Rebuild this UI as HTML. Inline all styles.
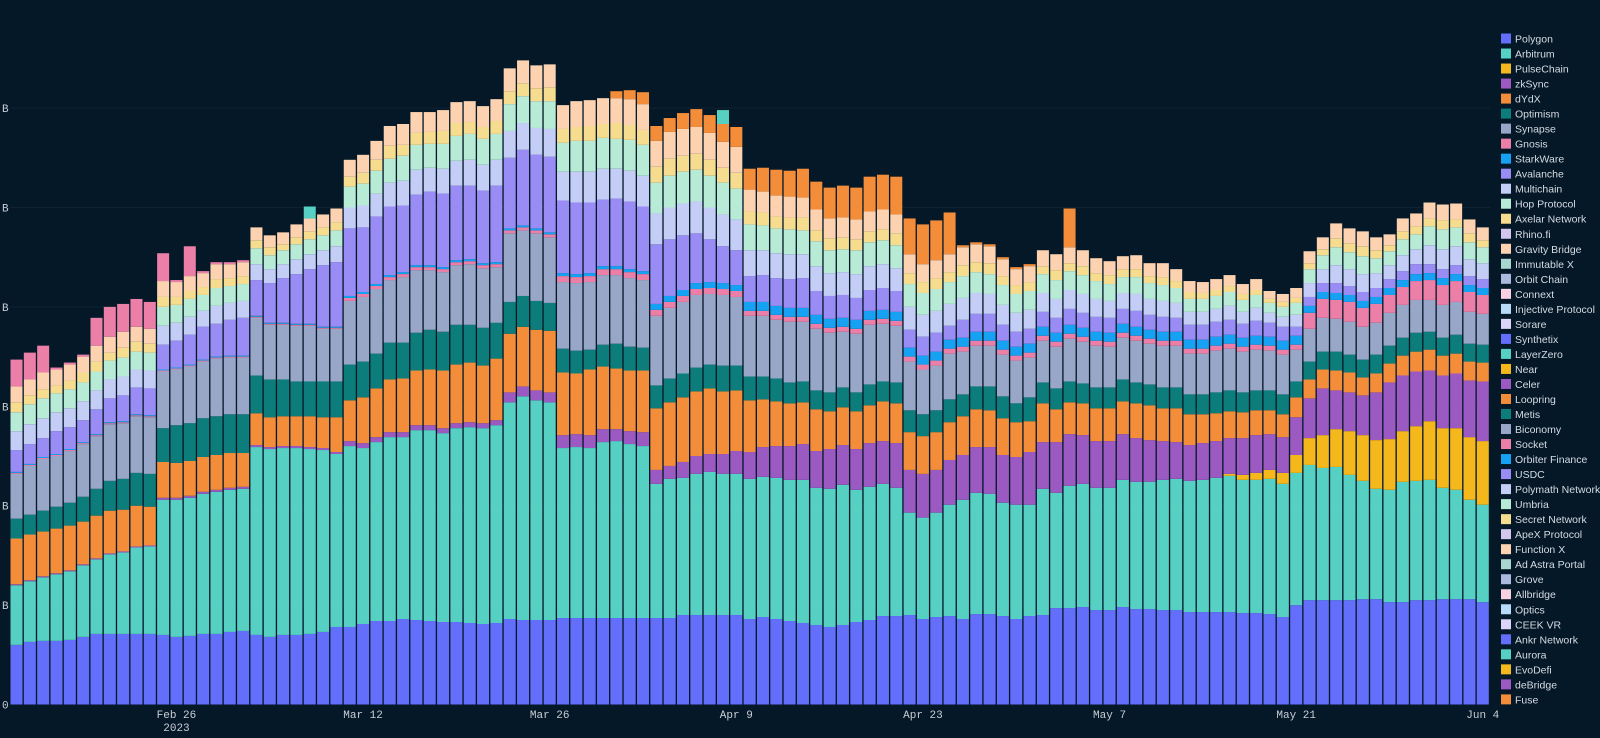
<!DOCTYPE html>
<html><head><meta charset="utf-8">
<style>
html,body{margin:0;padding:0;background:#041828;}
body{width:1600px;height:738px;overflow:hidden;font-family:"Liberation Sans",sans-serif;}
svg{display:block;}
.tick{font-family:"Liberation Mono",monospace;font-size:11px;fill:#c9ced6;}
.leg{font-family:"Liberation Sans",sans-serif;font-size:10.5px;fill:#d6dbe2;}
</style></head>
<body>
<svg id="chart" width="1600" height="738" xmlns="http://www.w3.org/2000/svg">
<rect x="0" y="0" width="1600" height="738" fill="#041828"/>
<g id="grid"></g>
<g id="yaxis"></g>
<g id="bars"></g>
<g id="xaxis"></g>
<g id="legend"></g>
</svg>
<script>
const startDate = [2023, 1, 14];
const tickIndex = [12, 26, 40, 54, 68, 82, 96, 110];
const tickLabels = ["Feb 26", "Mar 12", "Mar 26", "Apr 9", "Apr 23", "May 7", "May 21", "Jun 4"];
const yTicks = [0, 1, 2, 3, 4, 5, 6];
const yTickLabels = ["0", "B", "B", "B", "B", "B", "B"];

const polygon = [0.60,0.63,0.64,0.64,0.65,0.68,0.71,0.71,0.71,0.71,0.71,0.70,0.68,0.69,0.71,0.71,0.73,0.74,0.70,0.68,0.70,0.70,0.71,0.73,0.78,0.78,0.81,0.84,0.84,0.86,0.85,0.84,0.83,0.83,0.82,0.81,0.82,0.86,0.85,0.85,0.85,0.87,0.87,0.87,0.87,0.87,0.87,0.87,0.87,0.87,0.90,0.90,0.90,0.90,0.90,0.86,0.88,0.86,0.84,0.82,0.80,0.78,0.80,0.83,0.85,0.89,0.89,0.90,0.86,0.88,0.89,0.86,0.91,0.91,0.89,0.86,0.89,0.90,0.97,0.97,0.98,0.95,0.95,0.98,0.96,0.96,0.95,0.95,0.93,0.93,0.93,0.93,0.92,0.92,0.91,0.88,1.00,1.05,1.05,1.05,1.05,1.06,1.06,1.03,1.03,1.05,1.05,1.06,1.06,1.06,1.03];
const arbitrum = [0.60,0.61,0.64,0.67,0.69,0.72,0.75,0.80,0.82,0.87,0.88,1.36,1.38,1.39,1.41,1.43,1.43,1.43,1.89,1.89,1.88,1.88,1.86,1.83,1.74,1.82,1.77,1.80,1.85,1.83,1.91,1.92,1.90,1.95,1.97,1.97,1.99,2.18,2.25,2.21,2.19,1.71,1.72,1.71,1.77,1.78,1.75,1.73,1.35,1.40,1.38,1.42,1.44,1.42,1.42,1.41,1.41,1.42,1.42,1.44,1.38,1.39,1.41,1.33,1.34,1.33,1.29,1.03,1.02,1.05,1.12,1.20,1.22,1.21,1.14,1.15,1.12,1.27,1.16,1.23,1.24,1.23,1.23,1.28,1.28,1.28,1.31,1.32,1.32,1.33,1.35,1.37,1.34,1.34,1.36,1.34,1.33,1.36,1.33,1.34,1.26,1.19,1.11,1.13,1.21,1.20,1.21,1.12,1.10,1.00,0.98];
const pulsechain = [0,0,0,0,0,0,0,0,0,0,0,0,0,0,0,0,0,0,0,0,0,0,0,0,0,0,0,0,0,0,0,0,0,0,0,0,0,0,0,0,0,0,0,0,0,0,0,0,0,0,0,0,0,0,0,0,0,0,0,0,0,0,0,0,0,0,0,0,0,0,0,0,0,0,0,0,0,0,0,0,0,0,0,0,0,0,0,0,0,0,0,0.02,0.05,0.07,0.09,0.11,0.18,0.27,0.33,0.38,0.44,0.46,0.49,0.51,0.51,0.55,0.59,0.60,0.62,0.63,0.64];
const zksync = [0.01,0.01,0.01,0.01,0.01,0.01,0.01,0.01,0.01,0.01,0.01,0.02,0.02,0.02,0.02,0.02,0.02,0.02,0.02,0.02,0.02,0.02,0.02,0.02,0.02,0.05,0.05,0.05,0.05,0.05,0.05,0.05,0.05,0.05,0.05,0.05,0.05,0.10,0.10,0.10,0.10,0.13,0.13,0.13,0.13,0.12,0.13,0.14,0.14,0.13,0.16,0.18,0.18,0.20,0.23,0.27,0.30,0.32,0.34,0.36,0.37,0.40,0.40,0.41,0.44,0.43,0.45,0.43,0.44,0.43,0.45,0.45,0.46,0.47,0.48,0.48,0.53,0.47,0.51,0.52,0.49,0.47,0.47,0.46,0.44,0.42,0.39,0.37,0.36,0.37,0.37,0.36,0.37,0.38,0.36,0.36,0.38,0.40,0.47,0.39,0.39,0.40,0.48,0.57,0.56,0.55,0.51,0.53,0.55,0.57,0.60];
const dydx = [0.46,0.46,0.45,0.45,0.45,0.43,0.43,0.43,0.42,0.41,0.39,0.36,0.35,0.35,0.35,0.35,0.35,0.34,0.32,0.30,0.30,0.30,0.31,0.31,0.35,0.41,0.46,0.49,0.53,0.54,0.55,0.56,0.58,0.59,0.60,0.58,0.62,0.59,0.60,0.61,0.62,0.63,0.61,0.66,0.63,0.61,0.61,0.62,0.62,0.64,0.65,0.65,0.66,0.63,0.61,0.52,0.48,0.45,0.43,0.42,0.42,0.38,0.38,0.38,0.38,0.40,0.40,0.38,0.38,0.38,0.38,0.39,0.38,0.37,0.37,0.35,0.31,0.39,0.33,0.32,0.32,0.33,0.33,0.33,0.35,0.35,0.33,0.34,0.31,0.29,0.28,0.27,0.26,0.25,0.24,0.23,0.20,0.19,0.19,0.20,0.20,0.18,0.19,0.19,0.20,0.20,0.21,0.20,0.20,0.19,0.19];
const optimism = [0.20,0.20,0.21,0.22,0.23,0.25,0.27,0.30,0.31,0.33,0.33,0.34,0.38,0.38,0.39,0.39,0.39,0.39,0.38,0.38,0.37,0.35,0.35,0.36,0.36,0.36,0.36,0.35,0.37,0.36,0.38,0.40,0.39,0.40,0.38,0.38,0.36,0.32,0.31,0.29,0.28,0.24,0.23,0.20,0.22,0.25,0.24,0.23,0.23,0.24,0.24,0.24,0.24,0.26,0.25,0.24,0.23,0.23,0.21,0.21,0.19,0.19,0.20,0.19,0.21,0.20,0.21,0.22,0.22,0.22,0.23,0.22,0.23,0.24,0.22,0.19,0.24,0.21,0.21,0.21,0.20,0.21,0.21,0.22,0.21,0.21,0.21,0.21,0.20,0.20,0.21,0.21,0.20,0.20,0.20,0.20,0.16,0.18,0.18,0.19,0.18,0.18,0.19,0.18,0.18,0.19,0.18,0.18,0.19,0.18,0.18];
const synapse = [0.45,0.49,0.52,0.51,0.52,0.53,0.53,0.57,0.56,0.57,0.57,0.57,0.56,0.57,0.57,0.58,0.57,0.57,0.58,0.55,0.55,0.56,0.56,0.53,0.53,0.64,0.65,0.65,0.63,0.66,0.63,0.60,0.60,0.60,0.61,0.60,0.56,0.69,0.66,0.68,0.66,0.67,0.68,0.68,0.70,0.69,0.69,0.68,0.70,0.71,0.72,0.73,0.71,0.71,0.69,0.61,0.61,0.59,0.61,0.60,0.62,0.60,0.56,0.59,0.60,0.58,0.57,0.49,0.45,0.45,0.46,0.43,0.41,0.41,0.42,0.43,0.40,0.42,0.42,0.43,0.42,0.42,0.41,0.42,0.42,0.41,0.42,0.42,0.41,0.41,0.42,0.42,0.41,0.41,0.40,0.40,0.32,0.33,0.34,0.33,0.33,0.33,0.32,0.33,0.33,0.33,0.32,0.33,0.33,0.32,0.31];
const gnosis = [0.01,0.01,0.01,0.01,0.01,0.01,0.01,0.01,0.01,0.01,0.01,0.01,0.01,0.01,0.01,0.01,0.01,0.01,0.01,0.01,0.01,0.01,0.01,0.01,0.01,0.03,0.03,0.03,0.03,0.03,0.03,0.03,0.03,0.03,0.03,0.03,0.03,0.03,0.03,0.03,0.03,0.06,0.06,0.06,0.06,0.06,0.06,0.06,0.06,0.06,0.06,0.06,0.06,0.06,0.06,0.05,0.05,0.05,0.05,0.05,0.05,0.05,0.05,0.05,0.05,0.05,0.05,0.05,0.05,0.05,0.05,0.05,0.05,0.05,0.05,0.05,0.05,0.05,0.05,0.05,0.05,0.05,0.05,0.05,0.05,0.05,0.05,0.05,0.05,0.05,0.05,0.05,0.05,0.05,0.05,0.05,0.05,0.16,0.19,0.19,0.20,0.19,0.19,0.18,0.18,0.19,0.20,0.20,0.21,0.20,0.19,0.18];
const starkware = [0.01,0.01,0.01,0.01,0.01,0.01,0.01,0.01,0.01,0.01,0.01,0.01,0.01,0.01,0.01,0.01,0.01,0.01,0.01,0.01,0.01,0.01,0.01,0.01,0.01,0.02,0.02,0.02,0.02,0.02,0.02,0.02,0.02,0.02,0.02,0.02,0.02,0.02,0.02,0.02,0.02,0.03,0.03,0.03,0.03,0.03,0.03,0.03,0.06,0.06,0.06,0.06,0.06,0.06,0.06,0.09,0.09,0.09,0.09,0.09,0.09,0.09,0.09,0.09,0.09,0.09,0.09,0.09,0.09,0.09,0.09,0.09,0.09,0.09,0.09,0.09,0.09,0.09,0.09,0.09,0.09,0.09,0.09,0.09,0.09,0.09,0.09,0.09,0.09,0.09,0.09,0.09,0.09,0.09,0.09,0.09,0.09,0.07,0.07,0.07,0.07,0.07,0.07,0.07,0.07,0.07,0.07,0.07,0.07,0.07,0.07,0.07];
const avalanche = [0.22,0.20,0.19,0.23,0.22,0.22,0.25,0.24,0.26,0.27,0.27,0.25,0.27,0.30,0.33,0.33,0.36,0.38,0.36,0.40,0.45,0.50,0.55,0.62,0.65,0.68,0.65,0.68,0.69,0.67,0.71,0.74,0.74,0.75,0.74,0.73,0.77,0.71,0.76,0.74,0.76,0.73,0.72,0.71,0.67,0.68,0.68,0.65,0.60,0.57,0.55,0.50,0.43,0.37,0.35,0.26,0.27,0.28,0.29,0.30,0.24,0.23,0.23,0.22,0.21,0.22,0.21,0.18,0.19,0.19,0.14,0.18,0.18,0.18,0.16,0.15,0.15,0.15,0.15,0.16,0.15,0.15,0.15,0.15,0.16,0.15,0.15,0.14,0.15,0.15,0.15,0.15,0.14,0.15,0.14,0.14,0.09,0.09,0.09,0.10,0.09,0.09,0.09,0.09,0.09,0.10,0.09,0.09,0.09,0.09,0.09];
const multichain = [0.19,0.20,0.20,0.19,0.19,0.19,0.19,0.19,0.19,0.18,0.18,0.19,0.18,0.18,0.16,0.18,0.17,0.17,0.16,0.14,0.14,0.15,0.15,0.15,0.16,0.21,0.22,0.23,0.24,0.25,0.25,0.24,0.25,0.25,0.26,0.26,0.26,0.27,0.27,0.27,0.28,0.29,0.31,0.31,0.31,0.30,0.31,0.31,0.31,0.32,0.32,0.32,0.32,0.32,0.31,0.26,0.25,0.25,0.25,0.24,0.25,0.23,0.23,0.24,0.24,0.24,0.23,0.23,0.22,0.22,0.22,0.22,0.21,0.20,0.20,0.19,0.19,0.19,0.19,0.19,0.19,0.18,0.17,0.16,0.17,0.16,0.16,0.15,0.13,0.13,0.13,0.14,0.12,0.13,0.10,0.10,0.12,0.14,0.14,0.18,0.17,0.18,0.15,0.14,0.16,0.15,0.19,0.20,0.19,0.17,0.16];
const hop = [0.19,0.20,0.20,0.19,0.19,0.19,0.19,0.19,0.19,0.18,0.18,0.19,0.18,0.18,0.16,0.18,0.17,0.17,0.16,0.14,0.14,0.15,0.15,0.15,0.16,0.21,0.22,0.23,0.24,0.25,0.25,0.24,0.25,0.25,0.26,0.26,0.26,0.27,0.27,0.27,0.28,0.29,0.31,0.31,0.31,0.30,0.31,0.31,0.31,0.32,0.32,0.32,0.32,0.32,0.31,0.26,0.25,0.25,0.25,0.24,0.25,0.23,0.23,0.24,0.24,0.24,0.23,0.23,0.22,0.22,0.22,0.22,0.21,0.20,0.20,0.19,0.19,0.19,0.19,0.19,0.19,0.18,0.17,0.16,0.17,0.16,0.16,0.15,0.13,0.13,0.13,0.14,0.12,0.13,0.10,0.10,0.12,0.14,0.14,0.18,0.17,0.18,0.15,0.14,0.16,0.15,0.19,0.20,0.19,0.17,0.16];
const axelar = [0.10,0.09,0.09,0.08,0.09,0.10,0.10,0.08,0.10,0.10,0.09,0.10,0.08,0.08,0.08,0.09,0.08,0.08,0.08,0.08,0.06,0.07,0.08,0.08,0.08,0.10,0.11,0.11,0.13,0.11,0.12,0.12,0.13,0.13,0.12,0.12,0.13,0.13,0.13,0.13,0.14,0.14,0.14,0.15,0.14,0.16,0.15,0.15,0.16,0.17,0.16,0.16,0.16,0.15,0.16,0.13,0.13,0.12,0.12,0.13,0.11,0.12,0.12,0.11,0.11,0.11,0.12,0.11,0.11,0.11,0.10,0.11,0.10,0.11,0.09,0.09,0.09,0.08,0.10,0.08,0.09,0.08,0.09,0.08,0.08,0.07,0.08,0.07,0.07,0.06,0.06,0.06,0.06,0.05,0.04,0.05,0.05,0.06,0.06,0.09,0.09,0.10,0.08,0.06,0.08,0.08,0.08,0.09,0.08,0.09,0.07];
const gravity = [0.16,0.16,0.17,0.16,0.16,0.16,0.16,0.16,0.16,0.15,0.15,0.16,0.15,0.15,0.14,0.15,0.14,0.14,0.13,0.12,0.12,0.13,0.13,0.13,0.14,0.17,0.18,0.19,0.20,0.21,0.21,0.20,0.21,0.21,0.21,0.21,0.22,0.23,0.23,0.23,0.23,0.24,0.26,0.26,0.26,0.25,0.26,0.26,0.26,0.27,0.27,0.27,0.27,0.26,0.26,0.22,0.21,0.21,0.21,0.20,0.21,0.20,0.20,0.20,0.20,0.20,0.19,0.19,0.18,0.18,0.18,0.18,0.18,0.17,0.17,0.16,0.16,0.16,0.16,0.16,0.16,0.15,0.14,0.13,0.14,0.13,0.14,0.12,0.11,0.11,0.11,0.11,0.10,0.11,0.08,0.08,0.10,0.12,0.12,0.15,0.15,0.15,0.13,0.11,0.13,0.13,0.16,0.16,0.16,0.14,0.13];
const loopring = [0,0,0,0,0,0,0,0,0,0,0,0,0,0,0,0,0,0,0,0,0,0,0,0,0,0,0,0,0,0,0,0,0,0,0,0,0,0,0,0,0,0,0,0,0,0.07,0.09,0.12,0.15,0.14,0.16,0.18,0.18,0.18,0.20,0.21,0.24,0.26,0.26,0.29,0.28,0.31,0.32,0.32,0.35,0.35,0.38,0.36,0.40,0.40,0.42,0.02,0.02,0.02,0.02,0.02,0.02,0,0,0.39,0,0,0,0,0,0,0,0,0,0,0,0,0,0,0,0,0,0,0,0,0,0,0,0,0,0,0,0,0,0,0];
const socket = [0.27,0.27,0.27,0.02,0.02,0.02,0.28,0.30,0.28,0.28,0.27,0.28,0.02,0.30,0.02,0.02,0.02,0.02,0,0,0,0,0,0,0,0,0,0,0,0,0,0,0,0,0,0,0,0,0,0,0,0,0,0,0,0,0,0,0,0,0,0,0,0,0,0,0,0,0,0,0,0,0,0,0,0,0,0,0,0,0,0,0,0,0,0,0,0,0,0,0,0,0,0,0,0,0,0,0,0,0,0,0,0,0,0,0,0,0,0,0,0,0,0,0,0,0,0,0,0,0];
const aurora = [0,0,0,0,0,0,0,0,0,0,0,0,0,0,0,0,0,0,0,0,0,0,0.12,0,0,0,0,0,0,0,0,0,0,0,0,0,0,0,0,0,0,0,0,0,0,0,0,0,0,0,0,0,0,0.14,0,0,0,0,0,0,0,0,0,0,0,0,0,0,0,0,0,0,0,0,0,0,0,0,0,0,0,0,0,0,0,0,0,0,0,0,0,0,0,0,0,0,0,0,0,0,0,0,0,0,0,0,0,0,0,0,0];

const stackSeries = [
  ["Polygon", polygon, "#636efa"], ["Arbitrum", arbitrum, "#55d0c2"], ["PulseChain", pulsechain, "#f4b81c"],
  ["zkSync", zksync, "#9b59c2"], ["dYdX", dydx, "#f38d3a"], ["Optimism", optimism, "#0c7d7a"],
  ["Synapse", synapse, "#98a6c8"], ["Gnosis", gnosis, "#ec7fa8"], ["StarkWare", starkware, "#17a1f2"],
  ["Avalanche", avalanche, "#9a8cf5"], ["Multichain", multichain, "#c3cdf6"], ["Hop Protocol", hop, "#b7ebd6"],
  ["Axelar Network", axelar, "#f5dc8f"], ["Gravity Bridge", gravity, "#fcd2b0"], ["Loopring", loopring, "#f38d3a"],
  ["Socket", socket, "#ec7fa8"], ["Aurora", aurora, "#55d0c2"]
];
const legendNames = ["Polygon","Arbitrum","PulseChain","zkSync","dYdX","Optimism","Synapse","Gnosis","StarkWare","Avalanche","Multichain","Hop Protocol","Axelar Network","Rhino.fi","Gravity Bridge","Immutable X","Orbit Chain","Connext","Injective Protocol","Sorare","Synthetix","LayerZero","Near","Celer","Loopring","Metis","Biconomy","Socket","Orbiter Finance","USDC","Polymath Network","Umbria","Secret Network","ApeX Protocol","Function X","Ad Astra Portal","Grove","Allbridge","Optics","CEEK VR","Ankr Network","Aurora","EvoDefi","deBridge","Fuse"];
const legendColors = ["#636efa","#55d0c2","#f4b81c","#9b59c2","#f38d3a","#0c7d7a","#98a6c8","#ec7fa8","#17a1f2","#9a8cf5","#c3cdf6","#b7ebd6","#f5dc8f","#d2c6ef","#fcd2b0","#a9d5d1","#aab9dd","#f9d2e2","#b7dbf7","#dcd5f7","#636efa","#55d0c2","#f4b81c","#9b59c2","#f38d3a","#0c7d7a","#98a6c8","#ec7fa8","#17a1f2","#9a8cf5","#c3cdf6","#b7ebd6","#f5dc8f","#d2c6ef","#fcd2b0","#a9d5d1","#aab9dd","#f9d2e2","#b7dbf7","#dcd5f7","#636efa","#55d0c2","#f4b81c","#9b59c2","#f38d3a"];

const NS = "http://www.w3.org/2000/svg";
const X0 = 16.5, PITCH = 13.33, BARW = 12;
const Y0 = 704.5, YSTEP = 99.4;
function xScale(i){ return X0 + i * PITCH; }
function yScale(v){ return Y0 - v * YSTEP; }
function mk(tag, attrs){ const e = document.createElementNS(NS, tag); for (const k in attrs) e.setAttribute(k, attrs[k]); return e; }

const n = polygon.length;
const categories = [];
for (let i = 0; i < n; i++) {
  const d = new Date(startDate[0], startDate[1], startDate[2] + i);
  categories.push(d.toISOString().slice(0, 10));
}

const grid = document.getElementById('grid');
const yaxis = document.getElementById('yaxis');
yTicks.forEach((t, k) => {
  const y = yScale(t);
  if (t > 0) {
    const l = mk('line', {x1: 10, x2: 1490, y1: y, y2: y, stroke: '#0d2334', 'stroke-width': 1});
    
    
    grid.appendChild(l);
  }
  const tx = mk('text', {x: 2, y: y + 4, class: 'tick'});
  tx.textContent = yTickLabels[k];
  
  
  yaxis.appendChild(tx);
});

const bars = document.getElementById('bars');
for (let i = 0; i < n; i++) {
  const g = mk('g', {});
  
  
  let acc = 0;
  stackSeries.forEach(s => {
    const v = s[1][i] || 0;
    if (v <= 0) return;
    const yTop = yScale(acc + v), yBot = yScale(acc);
    const r = mk('rect', {x: xScale(i) - BARW / 2, y: yTop, width: BARW, height: Math.max(0.5, yBot - yTop), fill: s[2]});
    
    
    g.appendChild(r);
    acc += v;
  });
  bars.appendChild(g);
}

const xaxis = document.getElementById('xaxis');
tickIndex.forEach((ti, k) => {
  const t = mk('text', {x: xScale(ti), y: 718, 'text-anchor': 'middle', class: 'tick'});
  t.textContent = tickLabels[k];
  
  
  xaxis.appendChild(t);
});
const yr = mk('text', {x: xScale(tickIndex[0]), y: 731, 'text-anchor': 'middle', class: 'tick'});
yr.textContent = '2023';


xaxis.appendChild(yr);

const legend = document.getElementById('legend');
legendNames.forEach((nm, k) => {
  const y = 38.5 + k * 15.02;
  const g = mk('g', {});
  
  
  g.appendChild(mk('rect', {x: 1501, y: y - 5, width: 10, height: 10, fill: legendColors[k]}));
  const t = mk('text', {x: 1515, y: y + 4, class: 'leg'});
  t.textContent = nm;
  g.appendChild(t);
  legend.appendChild(g);
});
</script>
</body></html>
